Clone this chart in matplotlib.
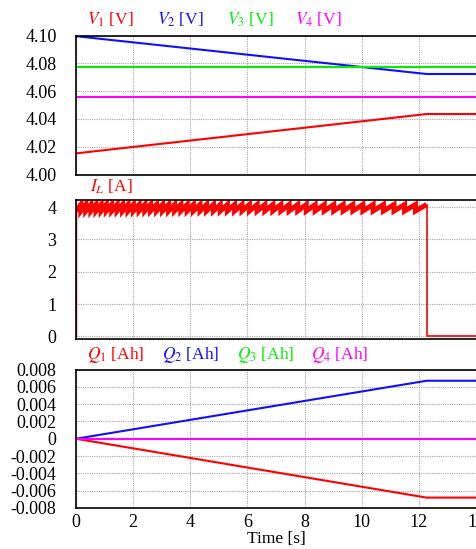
"""
Cell voltages, inductor current and transferred charge vs time.
"""
import numpy as np
import matplotlib
matplotlib.use('Agg')
import matplotlib.pyplot as plt

plt.rcParams.update({
    'font.family': ['Liberation Serif', 'DejaVu Serif'],
    'mathtext.fontset': 'stix',
    'axes.unicode_minus': False,
    'font.size': 13,
})

# ---- data ----
t_knee = [0.0, 12.27, 14.0]
v1 = [4.0152, 4.0435, 4.0435]
v2 = [4.0995, 4.0723, 4.0723]
v3 = [4.0776, 4.0776, 4.0776]
v4 = [4.0558, 4.0558, 4.0558]

q1 = [0.0, -0.0068, -0.0068]
q2 = [0.0, 0.0067, 0.0067]
q3 = [0.0, 0.0, 0.0]
q4 = [0.0, 0.0, 0.0]

# inductor current: sawtooth reset instants (s), ripple low/high (A)
il_drops = [0.17, 0.34, 0.52, 0.70, 0.88, 1.06, 1.25, 1.44, 1.63, 1.82,
            2.01, 2.21, 2.41, 2.61, 2.82, 3.03, 3.24, 3.45, 3.67, 3.89,
            4.11, 4.34, 4.57, 4.81, 5.05, 5.30, 5.55, 5.81, 6.07, 6.34,
            6.61, 6.89, 7.17, 7.46, 7.76, 8.06, 8.37, 8.69, 9.02, 9.35,
            9.69, 10.04, 10.40, 10.76, 11.13, 11.50, 11.88, 12.27]
il_low = 3.88
il_high = 4.08
t_end = 14.0

RED, BLUE, GREEN, MAGENTA = '#ff0000', '#1010ff', '#00ee00', '#ff00ff'

# ripple band built from the reset instants
band_t = [0.0]
band_v = [il_low]
for i, d in enumerate(il_drops):
    band_t.append(d)
    band_v.append(il_high)
    if i < len(il_drops) - 1:
        band_t.append(d)
        band_v.append(il_low)
t_off = il_drops[-1]

W, H = 476, 549
fig = plt.figure(figsize=(W / 100, H / 100), dpi=100)


def box(top, bottom, left=76, right=476):
    return [left / W, 1 - bottom / H, (right - left) / W, (bottom - top) / H]


def style(ax, show_x=False):
    ax.set_xlim(0, 14)
    ax.set_xticks(np.arange(0, 15, 2))
    ax.grid(True, color='#a8a8a8', linestyle=(0, (1, 1)), linewidth=0.8)
    ax.set_axisbelow(True)
    ax.tick_params(length=0, pad=14, labelsize=13)
    ax.tick_params(axis='x', pad=4)
    if not show_x:
        ax.tick_params(axis='x', labelbottom=False)
    ax.spines['right'].set_visible(False)
    for s in ('left', 'bottom', 'top'):
        ax.spines[s].set_linewidth(1.2)


def label(x, y, text, color):
    fig.text(x / W, 1 - y / H, text, color=color, fontsize=12.5, va='baseline')


# ---- panel 1: voltages ----
ax1 = fig.add_axes(box(35.5, 174.5))
style(ax1)
for v, c in [(v1, RED), (v2, BLUE), (v3, GREEN), (v4, MAGENTA)]:
    ax1.plot(t_knee, v, color=c, lw=1.5)
ax1.set_ylim(4.0, 4.10)
ax1.set_yticks(np.arange(4.0, 4.101, 0.02))
ax1.set_yticklabels(['%.2f' % y for y in np.arange(4.0, 4.101, 0.02)])
label(87, 25, r'$V_{\mathit{1}}$ [V]', RED)
label(157, 25, r'$V_{\mathit{2}}$ [V]', BLUE)
label(227, 25, r'$V_{\mathit{3}}$ [V]', GREEN)
label(295, 25, r'$V_{\mathit{4}}$ [V]', MAGENTA)

# ---- panel 2: inductor current ----
ax2 = fig.add_axes(box(200, 339))
style(ax2)
ax2.plot([0, 0], [0, il_low], color=RED, lw=1.0)
ax2.plot(band_t, band_v, color=RED, lw=3.6, solid_joinstyle='miter',
         solid_capstyle='butt')
ax2.plot([t_off, t_off, t_end], [il_high, 0, 0], color=RED, lw=1.2)
ax2.set_ylim(-0.08, 4.22)
ax2.set_yticks([0, 1, 2, 3, 4])
label(90, 192, r'$I_{\mathit{L}}$ [A]', RED)

# ---- panel 3: charge ----
ax3 = fig.add_axes(box(369.5, 508))
style(ax3, show_x=True)
for q, c in [(q1, RED), (q2, BLUE), (q3, GREEN), (q4, MAGENTA)]:
    ax3.plot(t_knee, q, color=c, lw=1.5)
ax3.set_ylim(-0.008, 0.008)
qt = [-0.008, -0.006, -0.004, -0.002, 0, 0.002, 0.004, 0.006, 0.008]
ax3.set_yticks(qt)
ax3.set_yticklabels(['0' if v == 0 else '%.3f' % v for v in qt])
ax3.set_xlabel('Time [s]', fontsize=12.5, labelpad=0)
label(87, 359, r'$Q_{\mathit{1}}$ [Ah]', RED)
label(162, 359, r'$Q_{\mathit{2}}$ [Ah]', BLUE)
label(237, 359, r'$Q_{\mathit{3}}$ [Ah]', GREEN)
label(311, 359, r'$Q_{\mathit{4}}$ [Ah]', MAGENTA)

fig.savefig('out.png', dpi=100)
plt.close(fig)
